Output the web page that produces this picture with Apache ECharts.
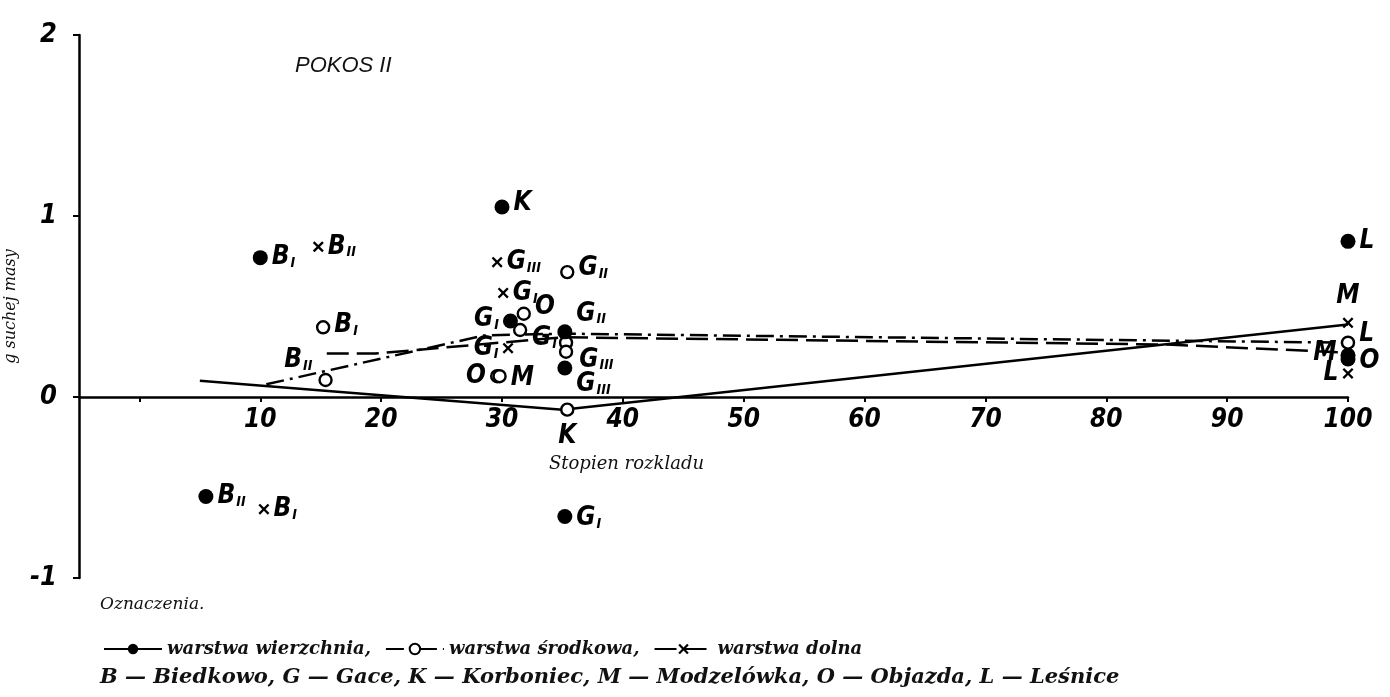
<!DOCTYPE html>
<html>
<head>
<meta charset="utf-8">
<script src="https://cdn.jsdelivr.net/npm/echarts@6/dist/echarts.min.js"></script>
<style>
html,body{margin:0;padding:0;background:#fff;}
#chart{width:1390px;height:697px;}
</style>
</head>
<body>
<div id="chart"></div>
<script>
// ---------- DATA ----------
const xTickValues  = [0, 10, 20, 30, 40, 50, 60, 70, 80, 90, 100];
const xLabelValues = [10, 20, 30, 40, 50, 60, 70, 80, 90, 100];

// warstwa wierzchnia (filled dots)
const topLetter = ['B', 'B', 'K', 'G', 'G', 'G', 'G', 'L', 'M', 'O'];
const topIndex  = ['I', 'II', '', 'I', 'II', 'III', 'I', '', '', ''];
const topX      = [10.0, 5.5, 30.0, 30.7, 35.2, 35.2, 35.2, 100, 100, 100];
const topY      = [0.77, -0.55, 1.05, 0.42, 0.36, 0.16, -0.66, 0.86, 0.23, 0.21];

// warstwa środkowa (open circles)
const midLetter = ['B', 'B', 'G', 'O', '', 'G', 'G', 'O', 'M', 'K', 'L'];
const midIndex  = ['I', 'II', 'II', '', '', 'I', 'III', '', '', '', ''];
const midX      = [15.2, 15.4, 35.4, 31.8, 31.5, 35.3, 35.3, 29.6, 29.8, 35.4, 100];
const midY      = [0.385, 0.094, 0.69, 0.46, 0.37, 0.30, 0.25, 0.115, 0.115, -0.07, 0.30];

// warstwa dolna (crosses)
const lowLetter = ['B', 'B', 'G', 'G', 'G', 'M', 'L'];
const lowIndex  = ['II', 'I', 'III', 'I', 'I', '', ''];
const lowX      = [14.8, 10.3, 29.6, 30.1, 30.5, 100, 100];
const lowY      = [0.83, -0.62, 0.745, 0.575, 0.27, 0.41, 0.13];

// trend lines
const topLineX = [5, 35, 100];
const topLineY = [0.09, -0.07, 0.40];
const midLineX = [10.5, 28.5, 35, 100];
const midLineY = [0.07, 0.34, 0.35, 0.30];
const lowLineX = [15.5, 19.5, 35, 85, 100];
const lowLineY = [0.24, 0.24, 0.33, 0.29, 0.245];

const legendNames = ['warstwa wierzchnia,', 'warstwa środkowa,', 'warstwa dolna'];
const keyText = 'B — Biedkowo, G — Gace, K — Korboniec, M — Modzelówka, O — Objazda, L — Leśnice';

// ---------- label placement (style, not data) ----------
const topLabelPos = [['right',0,0],['right',0,0],['right',0,-4],['left',0,-2],['right',0,-18],['right',0,16],['right',0,2],['right',0,0],['left',0,-2],['right',0,2]];
const midLabelPos = [['right',0,-2],['left',-2,-20],['right',0,-4],['right',0,-6],['right',0,0],['left',2,-4],['right',2,8],['left',0,0],['right',0,2],['bottom',0,2],['right',0,-8]];
const lowLabelPos = [['right',0,0],['right',0,0],['right',0,0],['right',0,0],['left',0,0],['top',0,-4],['left',0,0]];

const FONT_HAND = '"DejaVu Sans Condensed", "Liberation Sans", sans-serif';
const FONT_SERIF = '"DejaVu Serif", "Liberation Serif", serif';

function pts(xs, ys, letters, idx, pos) {
  return xs.map((x, i) => ({
    value: [x, ys[i]],
    name: letters[i] + idx[i],
    label: {
      show: letters[i] !== '',
      position: pos[i][0],
      offset: [pos[i][1], pos[i][2]],
      formatter: '{b|' + letters[i] + '}' + (idx[i] ? '{s|' + idx[i] + '}' : '')
    }
  }));
}
function linePts(xs, ys) { return xs.map((x, i) => [x, ys[i]]); }

const richStyle = {
  b: { fontFamily: FONT_HAND, fontSize: 26, fontStyle: 'italic', fontWeight: 'bold', color: '#000' },
  s: { fontFamily: FONT_HAND, fontSize: 14, fontStyle: 'italic', fontWeight: 'bold', color: '#000', verticalAlign: 'bottom', padding: [8, 0, 0, 1] }
};
const labelBase = { distance: 4, rich: richStyle };

const crossPath = 'path://M0,1.5 L1.5,0 L5,3.5 L8.5,0 L10,1.5 L6.5,5 L10,8.5 L8.5,10 L5,6.5 L1.5,10 L0,8.5 L3.5,5 Z';

// grid geometry: y from -1 to 2 over plot height; x-axis drawn on y = 0
const GRID_TOP = 35, GRID_BOTTOM = 119, CHART_H = 697;
const plotH = CHART_H - GRID_TOP - GRID_BOTTOM;
const zeroOffset = -plotH / 3; // move x-axis from y=-1 up to y=0

const chart = echarts.init(document.getElementById('chart'), null, { renderer: 'canvas' });
chart.setOption({
  backgroundColor: '#fff',
  animation: false,
  title: {
    text: 'POKOS II',
    left: 290, top: 50,
    textStyle: { fontFamily: '"Liberation Sans", sans-serif', fontSize: 22, fontStyle: 'italic', fontWeight: 'normal', color: '#111' }
  },
  grid: { left: 79, right: 42, top: GRID_TOP, bottom: GRID_BOTTOM, containLabel: false, outerBoundsMode: 'none' },
  xAxis: {
    type: 'value', min: -5, max: 100,
    position: 'bottom', offset: zeroOffset,
    name: 'Stopien rozkladu',
    nameLocation: 'middle', nameGap: 58,
    nameTextStyle: { fontFamily: FONT_SERIF, fontSize: 18, fontStyle: 'italic', color: '#111', padding: [0, 174, 0, 0] },
    axisLine: { onZero: false, lineStyle: { color: '#000', width: 2.5 } },
    axisTick: { show: true, length: 5, customValues: xTickValues, lineStyle: { color: '#000', width: 2 } },
    axisLabel: {
      customValues: xLabelValues, margin: 10,
      fontFamily: FONT_HAND, fontSize: 26, fontStyle: 'italic', fontWeight: 'bold', color: '#000'
    },
    splitLine: { show: false }
  },
  yAxis: {
    type: 'value', min: -1, max: 2, interval: 1,
    name: 'g suchej masy',
    nameLocation: 'middle', nameGap: 48, nameRotate: 90,
    nameTextStyle: { fontFamily: FONT_SERIF, fontSize: 16, fontStyle: 'italic', color: '#111' },
    axisLine: { show: true, onZero: false, lineStyle: { color: '#000', width: 2.5 } },
    axisTick: { show: true, length: 6, lineStyle: { color: '#000', width: 2 } },
    axisLabel: {
      margin: 22,
      fontFamily: FONT_HAND, fontSize: 27, fontStyle: 'italic', fontWeight: 'bold', color: '#000'
    },
    splitLine: { show: false }
  },
  legend: {
    data: legendNames,
    left: 98, top: 635,
    itemWidth: 58, itemHeight: 13, itemGap: 14,
    textStyle: { fontFamily: FONT_SERIF, fontSize: 18, fontStyle: 'italic', fontWeight: 'bold', color: '#111' },
    selectedMode: false
  },
  graphic: [
    { type: 'text', left: 100, top: 596,
      style: { text: 'Oznaczenia.', font: 'italic 17px ' + FONT_SERIF, fill: '#111' } },
    { type: 'text', left: 100, top: 667,
      style: { text: keyText, font: 'italic bold 21px ' + FONT_SERIF, fill: '#111' } }
  ],
  series: [
    { name: legendNames[0], type: 'line', data: linePts(topLineX, topLineY),
      symbol: 'circle', symbolSize: 12, showSymbol: false,
      itemStyle: { color: '#000' }, lineStyle: { color: '#000', width: 2.5, type: 'solid' }, z: 2 },
    { name: legendNames[1], type: 'line', data: linePts(midLineX, midLineY),
      symbol: 'emptyCircle', symbolSize: 11, showSymbol: false,
      itemStyle: { color: '#000', borderWidth: 2 }, lineStyle: { color: '#000', width: 2.5, type: [18, 6, 3, 6] }, z: 2 },
    { name: legendNames[2], type: 'line', data: linePts(lowLineX, lowLineY),
      symbol: crossPath, symbolSize: 10, showSymbol: false,
      itemStyle: { color: '#000' }, lineStyle: { color: '#000', width: 2.5, type: [22, 8] }, z: 2 },

    { name: 'pts-top', type: 'scatter', data: pts(topX, topY, topLetter, topIndex, topLabelPos),
      symbol: 'circle', symbolSize: 15, itemStyle: { color: '#000', opacity: 1 }, label: labelBase, z: 4 },
    { name: 'pts-mid', type: 'scatter', data: pts(midX, midY, midLetter, midIndex, midLabelPos),
      symbol: 'circle', symbolSize: 12, itemStyle: { color: '#fff', borderColor: '#000', borderWidth: 2.4, opacity: 1 }, label: labelBase, z: 3 },
    { name: 'pts-low', type: 'scatter', data: pts(lowX, lowY, lowLetter, lowIndex, lowLabelPos),
      symbol: crossPath, symbolSize: 11, itemStyle: { color: '#000', opacity: 1 }, label: labelBase, z: 4 }
  ]
});
</script>
</body>
</html>
